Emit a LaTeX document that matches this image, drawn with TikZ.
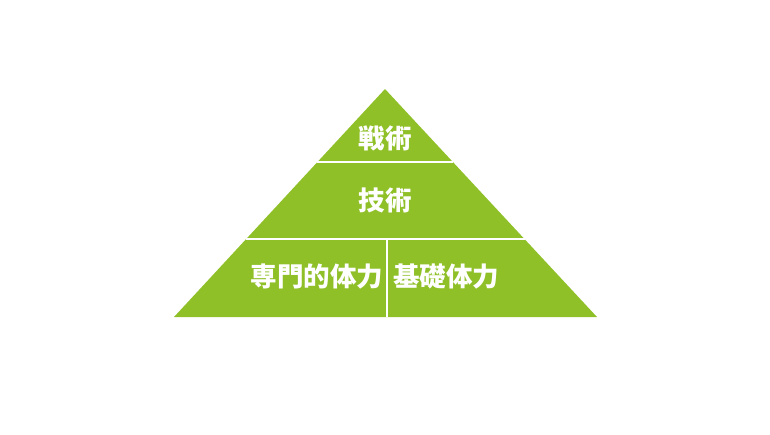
\documentclass[tikz,border=0pt]{standalone}
\usepackage{fontspec}
\newfontfamily\jpfont{Noto Sans CJK JP}
\usetikzlibrary{calc}
\definecolor{leaf}{RGB}{143,192,40}
\tikzset{
  block/.style={fill=leaf},
  gap/.style={draw=white, line width=2pt},
  word/.style={text=white, font=\jpfont\bfseries\fontsize{26.5}{26.5}\selectfont, inner sep=0pt}
}
\begin{document}
\begin{tikzpicture}[x=1pt, y=-1pt]
			\useasboundingbox (0,0) rectangle (770,434);
			\coordinate (T) at (385,89);
			\coordinate (L) at (174,317);
			\coordinate (R) at (597,317);
			\fill[block] (T) -- (L) -- (R) -- cycle;
			
			\coordinate (A1) at ($(T)!0.32!(L)$);
			\coordinate (B1) at ($(T)!0.32!(R)$);
			\coordinate (A2) at ($(T)!0.658!(L)$);
			\coordinate (B2) at ($(T)!0.658!(R)$);
			\coordinate (M2) at (387,239);
			\coordinate (M3) at (387,317);
			\draw[gap] (A1) -- (B1);
			\draw[gap] (A2) -- (B2);
			\draw[gap] (M2) -- (M3);
			
			\draw 
			(385,138) node[word](tactics){戦術}
			(385,200) node[word](skill){技術}
			(317,277) node[word](special){専門的体力}
			(446,277) node[word](basic){基礎体力};
			
		\end{tikzpicture}
\end{document}
